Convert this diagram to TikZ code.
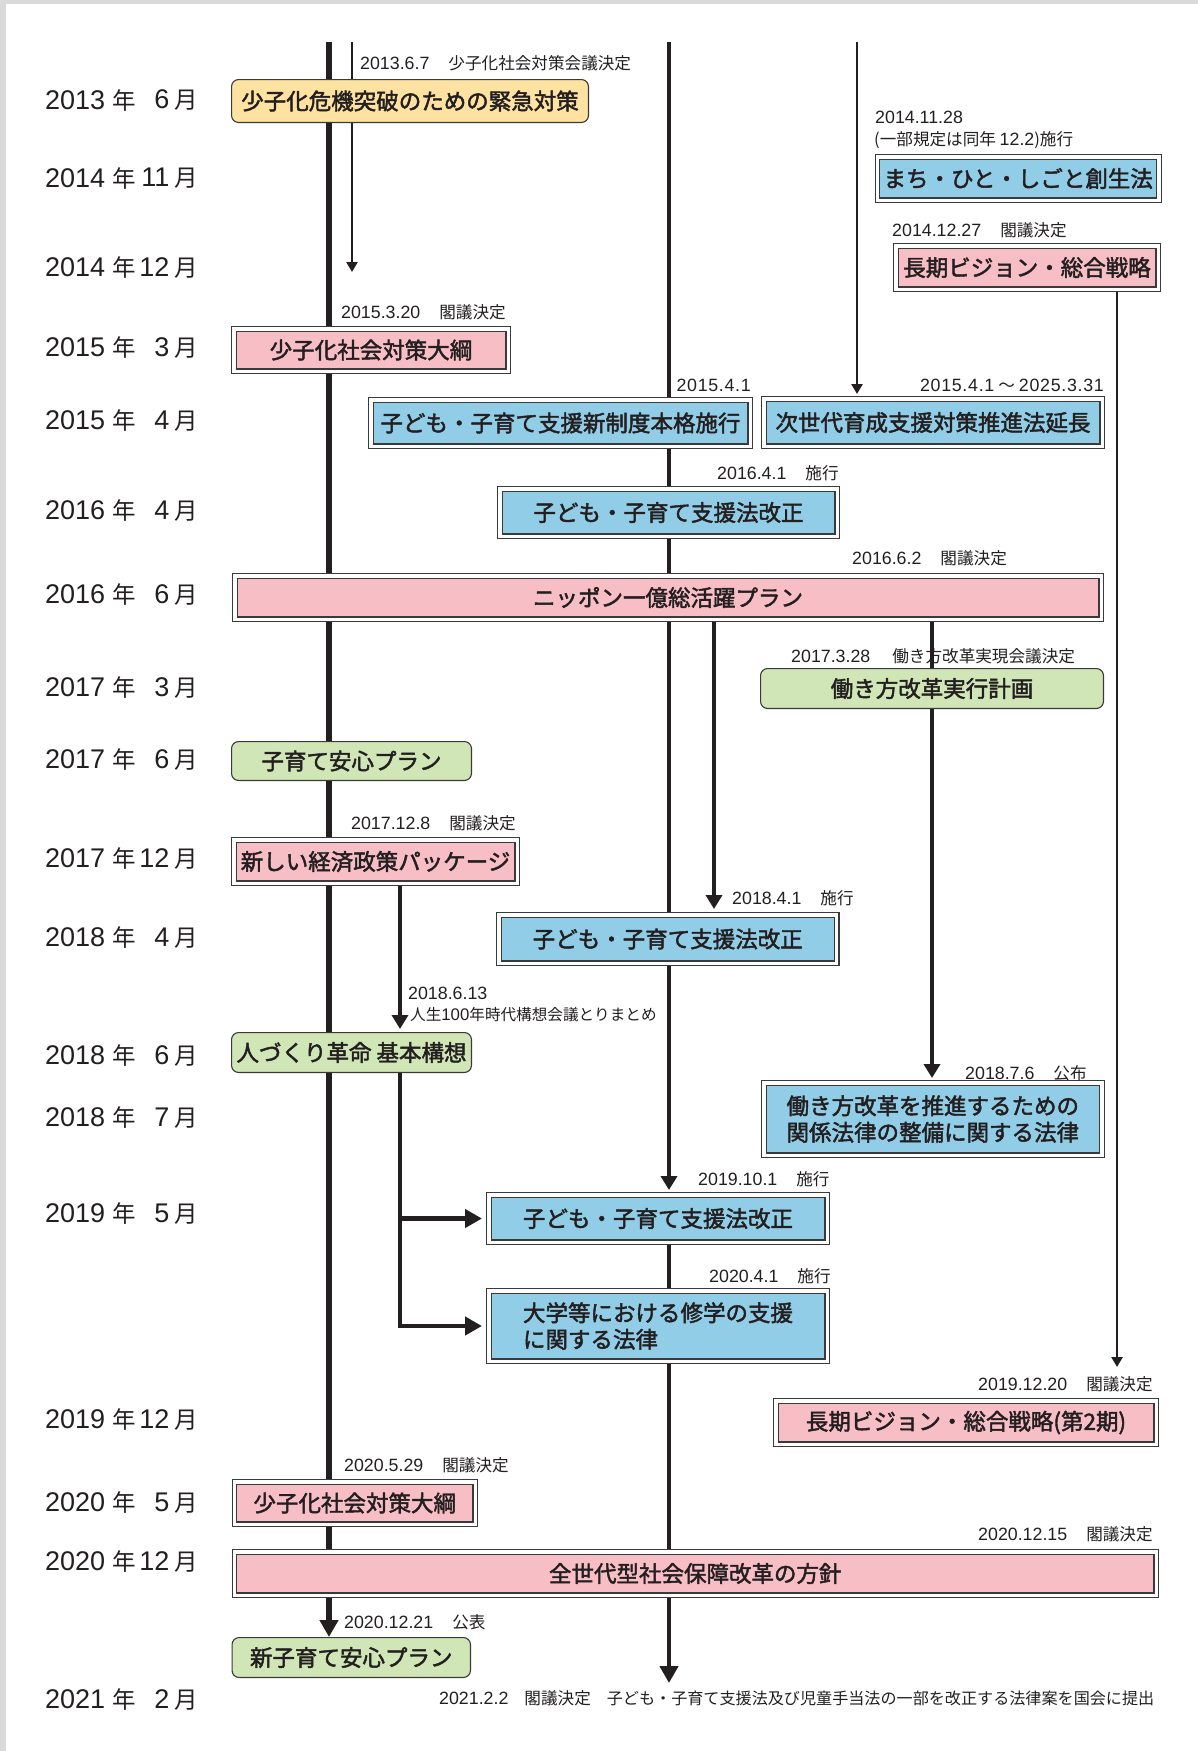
\documentclass[tikz,border=0pt]{standalone}
\usepackage{fontspec}
\setmainfont{Noto Sans CJK JP}
\newfontfamily\lat{Liberation Sans}
\newfontfamily\latw[LetterSpace=4]{Liberation Sans}
\newfontfamily\jpb[FakeBold=2]{Noto Sans CJK JP}
\usetikzlibrary{arrows.meta}
\pgfdeclarelayer{back}
\pgfdeclarelayer{bg}
\pgfsetlayers{back,bg,main}
\definecolor{linec}{HTML}{231F20}
\definecolor{boxline}{HTML}{3A3A3A}
\definecolor{yel}{HTML}{FDE2A2}
\definecolor{blu}{HTML}{92CDE7}
\definecolor{pnk}{HTML}{F7BEC6}
\definecolor{grn}{HTML}{D0E6B6}
\definecolor{framec}{HTML}{DADADA}
\newcommand\dg[1]{{\lat\fontsize{17.8}{20}\selectfont #1}}
\newcommand\dgw[1]{{\latw\fontsize{17.8}{20}\selectfont #1}}
\newcommand\lab[2]{\dg{#1}\hspace{19pt}#2}
\newcommand\yr[1]{{\lat\fontsize{27}{30}\selectfont #1}}
\newcommand\dbox[8]{\node[dbx,fill=#6,align=#7,minimum width={(#4-#2-5.6)*1pt},minimum height={(#5-#3-5.6)*1pt}] (#1) at ({(#2+#4)/2},{(#3+#5)/2}) {#8};}
\newcommand\rbox[7]{\node[rbx,fill=#6,minimum width={(#4-#2-1.1)*1pt},minimum height={(#5-#3-1.1)*1pt}] (#1) at ({(#2+#4)/2},{(#3+#5)/2}) {#7};}
\tikzset{
  every node/.style={text=linec},
  lbl/.style={font=\fontsize{16.6}{20}\selectfont, inner sep=0pt},
  datel/.style={font=\fontsize{23.5}{28}\selectfont, inner sep=0pt},
  dbx/.style={draw=boxline, line width=1.1pt, double=white, double distance=3.4pt, inner sep=0pt, outer sep=2.8pt, font=\jpb\fontsize{22.5}{26.5}\selectfont},
  rbx/.style={draw=boxline, line width=1.1pt, rounded corners=7pt, inner sep=0pt, outer sep=0.55pt, font=\jpb\fontsize{22.5}{26.5}\selectfont},
  thk/.style={draw=linec, line width=6.3pt},
  med/.style={draw=linec, line width=4.8pt},
  thn/.style={draw=linec, line width=2.6pt},
  bigarr/.style={-{Triangle[width=18pt,length=17pt]}},
  medarr/.style={-{Triangle[width=16pt,length=14pt]}},
  smarr/.style={-{Triangle[width=11pt,length=10pt]}},
}
\begin{document}
\begin{tikzpicture}[x=1pt,y=-1pt]
\useasboundingbox (0,0) rectangle (1198,1751);
\begin{pgfonlayer}{back}
\fill[framec] (0,0) rectangle (1198,1751);
\fill[white] (6,4) rectangle (1198,1751);
\end{pgfonlayer}

% date column
\foreach \yy/\a/\b [count=\i] in {100.5/2013/6, 178.6/2014/11, 268/2014/12, 348/2015/3, 421/2015/4, 511/2016/4, 595/2016/6, 688/2017/3, 760/2017/6, 859/2017/12, 938/2018/4, 1056/2018/6, 1118/2018/7, 1214/2019/5, 1420/2019/12, 1503/2020/5, 1562/2020/12, 1700/2021/2}{
  \node[datel, anchor=west] (yl\i) at (45,\yy) {\yr{\a\ }年};
  \node[datel, anchor=east] (ml\i) at (198,\yy) {\yr{\b}\hspace{5pt}月};
}

% boxes
\rbox{b1}{231}{79}{589}{123}{yel}{少子化危機突破のための緊急対策}
\dbox{b2}{874.6}{154}{1161.8}{203}{blu}{center}{まち・ひと・しごと創生法}
\dbox{b3}{893}{243}{1161}{292}{pnk}{center}{長期ビジョン・総合戦略}
\dbox{b4}{231}{326}{511}{374}{pnk}{center}{少子化社会対策大綱}
\dbox{b5}{368}{397}{753}{449}{blu}{center}{子ども・子育て支援新制度本格施行}
\dbox{b6}{761}{396}{1105}{449}{blu}{center}{次世代育成支援対策推進法延長}
\dbox{b7}{497}{486}{840}{539}{blu}{center}{子ども・子育て支援法改正}
\dbox{b8}{232}{573}{1104}{622}{pnk}{center}{ニッポン一億総活躍プラン}
\rbox{b9}{760}{668}{1104}{709}{grn}{働き方改革実行計画}
\rbox{b10}{231}{741}{472}{781}{grn}{子育て安心プラン}
\dbox{b11}{231}{837}{520}{886}{pnk}{center}{新しい経済政策パッケージ}
\dbox{b12}{496}{912}{839.5}{966}{blu}{center}{子ども・子育て支援法改正}
\rbox{b13}{231}{1032}{472}{1073}{grn}{人づくり革命 基本構想}
\dbox{b14}{761}{1080}{1104.6}{1158}{blu}{center}{働き方改革を推進するための\\関係法律の整備に関する法律}
\dbox{b15}{486}{1192}{830}{1245}{blu}{center}{子ども・子育て支援法改正}
\dbox{b16}{486}{1288}{830}{1364}{blu}{left}{大学等における修学の支援\\に関する法律}
\dbox{b17}{773}{1398}{1159}{1447}{pnk}{center}{長期ビジョン・総合戦略(第2期)}
\dbox{b18}{231.5}{1479}{478}{1527}{pnk}{center}{少子化社会対策大綱}
\dbox{b19}{231.5}{1549}{1159}{1598}{pnk}{center}{全世代型社会保障改革の方針}
\rbox{b20}{231.5}{1637}{471}{1678}{grn}{新子育て安心プラン}

% small labels
\node[lbl, anchor=west] (l1) at (360,63) {\lab{2013.6.7}{少子化社会対策会議決定}};
\node[lbl, anchor=west] (l2a) at (875,117) {\dg{2014.11.28}};
\node[lbl, anchor=west] (l2b) at (874,140) {(一部規定は同年 \dg{12.2})施行};
\node[lbl, anchor=west] (l3) at (892,230) {\lab{2014.12.27}{閣議決定}};
\node[lbl, anchor=west] (l4) at (341,312) {\lab{2015.3.20}{閣議決定}};
\node[lbl, anchor=east] (l5) at (751,385) {\dgw{2015.4.1}};
\node[lbl, anchor=east] (l6) at (1104,385) {\dgw{2015.4.1}\hspace{4pt}～\hspace{4pt}\dgw{2025.3.31}};
\node[lbl, anchor=west] (l7) at (717,473) {\lab{2016.4.1}{施行}};
\node[lbl, anchor=west] (l8) at (852,558) {\lab{2016.6.2}{閣議決定}};
\node[lbl, anchor=west] (l9) at (791,656) {\dg{2017.3.28}\hspace{22pt}働き方改革実現会議決定};
\node[lbl, anchor=west] (l10) at (351,823) {\lab{2017.12.8}{閣議決定}};
\node[lbl, anchor=west] (l11) at (732,898) {\lab{2018.4.1}{施行}};
\node[lbl, anchor=west] (l12a) at (408,993) {\dg{2018.6.13}};
\node[lbl, anchor=west, font=\fontsize{15.6}{19}\selectfont] (l12b) at (410,1015) {人生{\lat\fontsize{16.8}{19}\selectfont 100}年時代構想会議とりまとめ};
\node[lbl, anchor=west] (l13) at (965,1073) {\lab{2018.7.6}{公布}};
\node[lbl, anchor=west] (l14) at (698,1179) {\lab{2019.10.1}{施行}};
\node[lbl, anchor=west] (l15) at (709,1276) {\lab{2020.4.1}{施行}};
\node[lbl, anchor=west] (l16) at (978,1384) {\lab{2019.12.20}{閣議決定}};
\node[lbl, anchor=west] (l17) at (344,1465) {\lab{2020.5.29}{閣議決定}};
\node[lbl, anchor=west] (l18) at (978,1534) {\lab{2020.12.15}{閣議決定}};
\node[lbl, anchor=west] (l19) at (344,1622) {\lab{2020.12.21}{公表}};
\node[lbl, anchor=west] (l20) at (439,1698) {\dg{2021.2.2}\hspace{16pt}閣議決定\hspace{16pt}{\fontsize{16.1}{19}\selectfont 子ども・子育て支援法及び児童手当法の一部を改正する法律案を国会に提出}};

% coordinates
\coordinate (t1) at (329,42);
\coordinate (t2) at (352,42);
\coordinate (e2) at (352,272);
\coordinate (t3) at (669,42);
\coordinate (e3) at (669,1683);
\coordinate (t4) at (857,42);
\coordinate (e5) at (1117,1367);
\coordinate (x714) at (714,0);
\coordinate (x932) at (932,0);
\coordinate (x400) at (400,0);

\begin{pgfonlayer}{bg}
\draw[thk, bigarr] (t1) -- (t1 |- b20.north);
\draw[thn, smarr] (t2) -- (e2);
\draw[med, medarr, shorten >=2pt] (t3) -- (t3 |- b15.north);
\draw[med, bigarr] (t3 |- b15.south) -- (e3);
\draw[thn, smarr, shorten >=2pt] (t4) -- (t4 |- b6.north);
\draw[thn, smarr] (b3.south -| e5) -- (e5);
\draw[med, medarr, shorten >=3pt] (b8.south -| x714) -- (x714 |- b12.north);
\draw[med, medarr, shorten >=2pt] (b8.south -| x932) -- (x932 |- b14.north);
\draw[med, medarr, shorten >=3pt] (b11.south -| x400) -- (x400 |- b13.north);
\draw[med, bigarr, shorten >=4pt] (b13.south -| x400) |- (b16.west);
\draw[med, bigarr, shorten >=4pt] (b15.west -| x400) -- (b15.west);
\end{pgfonlayer}
\end{tikzpicture}
\end{document}
